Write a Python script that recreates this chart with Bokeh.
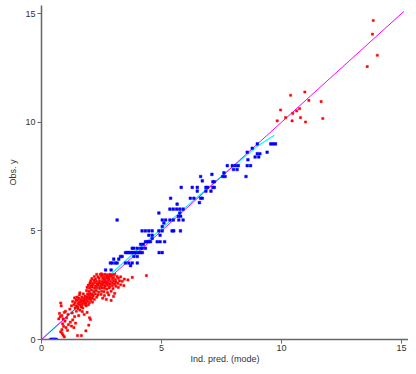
from bokeh.plotting import figure
from bokeh.models import Range1d, FixedTicker
from bokeh.embed import file_html
from bokeh.resources import INLINE

# Blue observations (x = individual prediction, y = observed)
blue_x = [0.38, 0.42, 0.46, 0.5, 0.54, 0.58, 0.62,
          2.67, 2.9, 3.71,
          2.87, 2.95, 3.08, 3.15, 3.5, 3.64, 3.78, 3.99,
          3.01, 3.22,
          3.29, 3.36, 3.85, 3.99,
          3.5, 3.57, 3.64, 3.71, 3.78, 3.85, 3.92, 3.99, 4.06, 4.13, 4.2, 4.9, 5.03,
          3.78, 3.85, 3.99, 4.13, 4.2, 4.33,
          4.13, 4.24,
          4.33, 4.4, 4.47, 4.54, 4.82, 4.94, 5.13,
          4.61,
          4.47, 4.61, 4.94,
          4.19, 4.33, 4.47, 4.61, 4.89, 5.03, 5.44, 5.51, 5.79,
          5.03, 5.1,
          3.15, 5.03, 5.17, 5.35, 5.49, 5.72, 5.9,
          5.7, 5.8,
          4.89, 5.76,
          5.35, 5.49, 5.63, 5.76, 5.9,
          5.65, 6.58,
          5.38, 6.2, 6.35, 6.63, 6.7,
          6.49, 6.85, 7.06,
          5.82, 6.28, 6.49, 6.85, 6.92, 7.14, 7.2,
          7.14, 7.2, 6.7,
          6.63, 7.55, 7.65, 8.52,
          7.1, 7.6,
          8.0, 8.15,
          7.74, 7.95, 8.08, 8.2, 8.57, 8.71,
          8.6, 8.9, 9.05, 8.99, 9.1, 8.57, 8.78, 9.4,
          8.99, 9.55, 9.65, 9.75]
blue_y = [0, 0, 0, 0, 0, 0, 0,
          3.2, 3.2, 3.4,
          3.52, 3.52, 3.52, 3.52, 3.52, 3.52, 3.52, 3.52,
          3.7, 3.7,
          3.82, 3.82, 3.82, 3.82,
          4.0, 4.0, 4.0, 4.0, 4.0, 4.0, 4.0, 4.0, 4.0, 4.0, 4.0, 4.0, 4.0,
          4.2, 4.2, 4.2, 4.2, 4.2, 4.2,
          4.38, 4.38,
          4.5, 4.5, 4.5, 4.5, 4.5, 4.5, 4.5,
          4.65,
          4.8, 4.8, 4.8,
          5.0, 5.0, 5.0, 5.0, 5.0, 5.0, 5.0, 5.0, 5.0,
          5.2, 5.36,
          5.5, 5.5, 5.5, 5.5, 5.5, 5.5, 5.5,
          5.67, 5.67,
          5.82, 5.82,
          6.0, 6.0, 6.0, 6.0, 6.0,
          6.23, 6.3,
          6.5, 6.5, 6.5, 6.5, 6.5,
          6.83, 6.83, 6.83,
          7.0, 7.0, 7.0, 7.0, 7.0, 7.0, 7.0,
          7.26, 7.26, 7.3,
          7.5, 7.5, 7.5, 7.5,
          7.6, 7.67,
          7.82, 7.82,
          8.0, 8.0, 8.0, 8.0, 8.0, 8.0,
          8.27, 8.4, 8.4, 8.55, 8.55, 8.62, 8.8, 8.62,
          9.0, 9.0, 9.0, 9.0]

# Red observations
red_x = [0.8, 0.82, 0.75, 0.78, 0.85, 0.9, 0.95, 1.0, 1.05, 1.1, 0.98, 0.88, 0.92, 1.02, 1.12,
         1.2, 0.85, 0.8, 0.86, 0.9, 0.95, 1.08, 1.25, 1.3, 1.38, 1.45, 1.4, 1.52, 1.6, 1.65,
         1.7, 1.78, 1.9, 2.0, 2.04, 1.97, 1.85, 1.5, 1.66, 1.35, 1.18, 1.28, 1.55, 1.42, 0.72,
         1.35, 1.4, 1.45, 1.5, 1.52, 1.55, 1.58, 1.6, 1.62, 1.65, 1.68, 1.7, 1.72, 1.75, 1.78,
         1.8, 1.82, 1.85, 1.88, 1.9, 1.92, 1.95, 1.98, 2.0, 2.02, 2.05, 2.08, 2.1, 1.48, 1.58,
         1.66, 1.74, 1.86, 1.44, 1.3, 1.25, 1.6, 1.96, 2.12, 2.15, 1.72, 1.5, 1.82, 1.38, 2.2,
         2.3, 2.45, 2.55, 2.65, 2.75, 2.85, 2.95, 3.05, 2.5,
         2.2, 2.35, 2.5, 2.6, 2.7, 2.8, 2.9, 3.0, 3.15, 3.3, 3.78, 4.37,
         2.1, 2.25, 2.4, 2.55, 2.62, 2.72, 2.82, 2.95, 3.08, 3.2, 3.45,
         2.05, 2.18, 2.3, 2.42, 2.52, 2.62, 2.7, 2.78, 2.88, 3.0, 3.1, 3.25, 3.36, 3.6,
         2.02, 2.12, 2.22, 2.32, 2.4, 2.48, 2.58, 2.66, 2.76, 2.85, 2.96, 3.05, 3.18, 3.3,
         1.95, 2.05, 2.15, 2.25, 2.35, 2.45, 2.55, 2.65, 2.74, 2.84, 2.95, 3.1, 3.43, 3.2,
         1.9, 2.0, 2.1, 2.2, 2.3, 2.42, 2.52, 2.62, 2.72, 2.82, 2.98,
         1.88, 1.98, 2.08, 2.18, 2.28, 2.38, 2.5, 2.6, 2.75, 2.9, 3.05,
         1.92, 2.02, 2.14, 2.24, 2.35, 2.48, 2.62, 2.8, 3.0, 2.3, 2.55, 2.7, 2.9,
         10.38, 10.97, 11.14, 11.65, 9.96, 10.75, 10.63, 10.47, 10.17, 9.82, 10.44, 10.79,
         11.0, 11.72, 13.82, 13.79, 13.99, 13.57]
red_y = [1.68, 1.55, 1.2, 1.05, 1.1, 0.95, 1.25, 1.3, 1.0, 1.15, 0.85, 0.72, 0.6, 0.55, 0.68,
         0.8, 0.45, 0.35, 0.28, 0.2, 0.12, 0.42, 0.62, 0.9, 1.05, 1.3, 1.45, 1.42, 1.35, 1.5,
         1.28, 1.15, 1.25, 1.0, 0.92, 0.66, 0.4, 0.18, 0.18, 0.55, 1.4, 1.22, 1.1, 0.75, 0.95,
         1.6, 1.7, 1.55, 1.8, 1.65, 1.9, 1.72, 1.6, 1.85, 1.75, 1.95, 1.62, 1.82, 1.7, 1.9,
         1.78, 2.0, 1.68, 1.85, 1.95, 1.75, 2.05, 1.88, 1.7, 1.95, 1.82, 2.05, 1.9, 1.95, 2.05,
         1.52, 2.1, 1.55, 1.82, 1.75, 1.55, 2.15, 1.6, 1.72, 2.0, 1.45, 1.5, 1.62, 1.92, 1.85,
         3.0, 3.0, 2.98, 3.0, 2.97, 3.0, 2.98, 3.0, 3.02,
         2.9, 2.88, 2.92, 2.86, 2.9, 2.88, 2.92, 2.86, 2.9, 2.88, 2.86, 2.94,
         2.8, 2.78, 2.82, 2.8, 2.76, 2.82, 2.78, 2.8, 2.76, 2.82, 2.78,
         2.7, 2.72, 2.68, 2.7, 2.66, 2.7, 2.64, 2.72, 2.68, 2.7, 2.65, 2.7, 2.68, 2.74,
         2.6, 2.58, 2.62, 2.56, 2.6, 2.55, 2.6, 2.58, 2.6, 2.56, 2.6, 2.55, 2.58, 2.52,
         2.5, 2.48, 2.52, 2.46, 2.5, 2.44, 2.5, 2.46, 2.5, 2.44, 2.48, 2.45, 2.48, 2.4,
         2.4, 2.38, 2.42, 2.36, 2.4, 2.34, 2.38, 2.36, 2.32, 2.38, 2.34,
         2.25, 2.22, 2.28, 2.2, 2.25, 2.18, 2.22, 2.2, 2.16, 2.22, 2.12,
         2.1, 2.12, 2.06, 2.1, 2.05, 2.08, 2.02, 2.05, 1.98, 1.95, 1.9, 1.85, 1.8,
         11.24, 11.39, 11.0, 10.95, 10.56, 10.62, 10.52, 10.41, 10.21, 10.06, 10.06, 10.21,
         10.01, 10.17, 14.68, 14.05, 13.08, 12.56]

# Identity line and smoother
ident_x = [0, 15.1]
ident_y = [0, 15.1]
smooth_x = [0, 1, 2, 3, 4, 5, 6, 7, 8, 9, 9.7]
smooth_y = [0, 0.99, 2.05, 3.12, 4.13, 5.1, 6.08, 7.04, 7.98, 8.9, 9.4]

ticks = [0, 5, 10, 15]

p = figure(width=408, height=366, output_backend="svg", toolbar_location=None,
           x_range=Range1d(0, 15.29), y_range=Range1d(0, 15.37),
           min_border_left=41, min_border_right=0, min_border_top=5, min_border_bottom=24)
p.outline_line_color = None
p.xgrid.visible = False
p.ygrid.visible = False
p.background_fill_color = "white"

p.line(smooth_x, smooth_y, line_color="#00ffff", line_width=1.2)
p.line(ident_x, ident_y, line_color="#ff00ff", line_width=1)
p.scatter(red_x, red_y, marker="square", size=2.2, fill_color="#ff0000", line_color="#ff0000", line_width=0.5)
p.scatter(blue_x, blue_y, marker="square", size=2.6, fill_color="#0000ff", line_color="#0000ff", line_width=0.5)

for ax in (p.xaxis[0], p.yaxis[0]):
    ax.ticker = FixedTicker(ticks=ticks)
    ax.minor_tick_line_color = None
    ax.major_tick_in = 0
    ax.major_tick_out = 4
    ax.axis_line_color = "#666666"
    ax.major_tick_line_color = "#666666"
    ax.axis_line_width = 1.5
    ax.major_label_text_font = "Liberation Sans"
    ax.major_label_text_font_size = "9px"
    ax.major_label_text_color = "#333333"
    ax.axis_label_text_font = "Liberation Sans"
    ax.axis_label_text_font_size = "9px"
    ax.axis_label_text_font_style = "normal"
    ax.axis_label_text_color = "#333333"

p.xaxis.major_label_standoff = 1
p.yaxis.major_label_standoff = 2
p.xaxis.axis_label = "Ind. pred. (mode)"
p.yaxis.axis_label = "Obs. y"
p.xaxis.axis_label_standoff = 0
p.yaxis.axis_label_standoff = 4
p.yaxis.major_label_orientation = "horizontal"

open("out.html", "w").write(file_html(p, INLINE))
